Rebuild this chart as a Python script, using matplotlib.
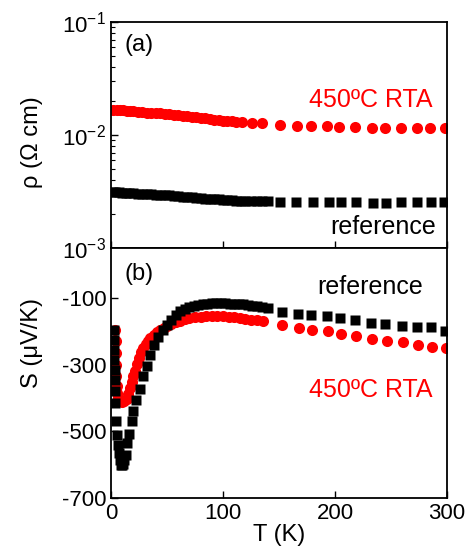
import matplotlib
matplotlib.use("Agg")
import matplotlib.pyplot as plt
import numpy as np

plt.rcParams['font.family'] = ['Liberation Sans', 'DejaVu Sans']
plt.rcParams['axes.unicode_minus'] = False

# (a) resistivity, 450C RTA sample (red circles)
t_rho_rta = [2, 5, 8, 11, 14, 17, 20, 24, 28, 32, 36, 40, 44, 48, 52, 56, 60, 64,
             68, 72, 76, 80, 84, 88, 92, 96, 100, 104, 108, 112, 117, 126, 135,
             151, 166, 179, 193, 204, 218, 233, 245, 259, 273, 285, 298.5]
rho_rta = [0.0166, 0.0166, 0.0165, 0.0165, 0.0164, 0.0163, 0.0162, 0.0161, 0.0160,
           0.0158, 0.0157, 0.0156, 0.0155, 0.0154, 0.0152, 0.0151, 0.0149, 0.0148,
           0.0146, 0.0145, 0.0143, 0.0142, 0.0140, 0.0138, 0.0137, 0.0135, 0.0134,
           0.0133, 0.0132, 0.0131, 0.0130, 0.0128, 0.0128,
           0.01225, 0.0121, 0.0121, 0.0121, 0.0117, 0.0117, 0.0116, 0.0116, 0.0116,
           0.0116, 0.0116, 0.0115]

# (a) resistivity, reference sample (black squares)
t_rho_ref = [1.5, 4, 7, 10, 13, 16, 20, 24, 28, 32, 36, 40, 44, 48, 52, 56, 60, 64,
             68, 72, 76, 80, 84, 88, 92, 96, 100, 104, 108, 112, 116, 120, 125, 130,
             135, 140,
             151, 165, 180, 194.6, 205, 219, 234, 245.5, 259, 273, 285.6, 297.5]
rho_ref = [0.00315, 0.00313, 0.00311, 0.00309, 0.00308, 0.00306, 0.00305, 0.00303,
           0.00302, 0.00300, 0.00298, 0.00297, 0.00296, 0.00294, 0.00292, 0.00290,
           0.00287, 0.00284, 0.00282, 0.00280, 0.00277, 0.00275, 0.00273, 0.00272,
           0.00270, 0.00269, 0.00267, 0.00266, 0.00264, 0.00263, 0.00262, 0.00261,
           0.00260, 0.00260, 0.00260, 0.00259,
           0.00257, 0.00257, 0.00257, 0.00257, 0.00257, 0.00257, 0.00250, 0.00250,
           0.00257, 0.00257, 0.00257, 0.00257]

# (b) thermopower, 450C RTA sample
t_s_rta = [4, 4.2, 4.4, 4.6, 4.8, 5, 5.5, 6.5, 8, 10, 12, 14, 15.5, 17, 18.5, 20,
           21.5, 23, 25, 27, 29, 31, 33, 35, 38, 41, 44, 47, 50, 54, 58, 62, 66, 70,
           75, 80, 85, 90, 95, 100, 105, 110, 115, 120, 125, 130, 136,
           153, 168, 179.5, 194, 205, 219, 233, 246.5, 261, 274.5, 287, 299.5]
s_rta = [-196, -230, -265, -300, -335, -365, -385, -400, -408, -411, -410, -402,
         -388, -370, -352, -335, -318, -298, -280, -263, -250, -238, -228, -220,
         -210, -202, -195, -189, -183, -177, -172, -168, -164, -161, -158, -156,
         -155, -154, -154, -155, -156, -158, -160, -162, -165, -167, -170,
         -181, -191, -195, -200, -208, -213, -223, -228, -231, -241, -246, -251]

# (b) thermopower, reference sample
t_s_ref = [2.8, 2.9, 3.0, 3.1, 3.2, 3.3, 3.4, 3.6, 4.2, 5, 6, 7, 7.6, 8.5, 9.5,
           11, 12, 13, 14.7, 16.4, 18.5, 20, 22.6, 25.6, 28.6, 32, 35, 38.5, 42,
           46, 50, 54, 58, 62, 66, 70, 74, 78, 82, 86, 90, 94, 98, 102,
           106, 110, 114, 118, 122, 126, 130, 135, 140,
           153, 167, 179, 192.6, 204.5, 218, 232, 245, 259.5, 273, 285.5, 298]
s_ref = [-195, -225, -255, -285, -315, -345, -380, -415, -470, -510, -540, -565,
         -585, -600, -602, -598, -585, -570, -534, -507, -468, -440, -407, -374,
         -334, -305, -270, -240, -217, -195, -180, -165, -150, -140, -133,
         -127, -123, -120, -118, -117, -116, -116, -116, -116, -117, -117, -118,
         -119, -121, -123, -125, -128, -131,
         -142, -147, -150, -154, -160, -166, -175, -178, -183, -188, -188, -198]

fig = plt.figure(figsize=(4.71, 5.54), dpi=100)
ax1 = fig.add_axes([0.2357, 0.5523, 0.7133, 0.4080])
ax2 = fig.add_axes([0.2357, 0.1011, 0.7133, 0.4512])

ax1.plot(t_rho_rta, rho_rta, 'o', color='red', ms=8, mec='none')
ax1.plot(t_rho_ref, rho_ref, 's', color='black', ms=7, mec='none')
ax1.set_yscale('log')
ax1.set_ylim(1e-3, 1e-1)
ax1.set_xlim(0, 300)
ax1.set_xticks([0, 100, 200, 300])
ax1.set_xticklabels([])
ax1.set_ylabel('ρ (Ω cm)', fontsize=17)
ax1.yaxis.set_label_coords(-0.202, 0.47)
ax1.text(12, 0.0625, '(a)', fontsize=17, va='center')
ax1.text(287, 0.0204, '450ºC RTA', fontsize=18, color='red', ha='right', va='center')
ax1.text(290, 0.00154, 'reference', fontsize=18, ha='right', va='center')

ax2.plot(t_s_rta, s_rta, 'o', color='red', ms=8, mec='none')
ax2.plot(t_s_ref, s_ref, 's', color='black', ms=7, mec='none')
ax2.set_xlim(0, 300)
ax2.set_ylim(-700, 50)
ax2.set_xticks([0, 100, 200, 300])
ax2.set_yticks([-100, -300, -500, -700])
ax2.set_xlabel('T (K)', fontsize=17, labelpad=0)
ax2.set_ylabel('S (μV/K)', fontsize=17)
ax2.yaxis.set_label_coords(-0.202, 0.62)
ax2.text(12, -27, '(b)', fontsize=17, va='center')
ax2.text(279, -67, 'reference', fontsize=18, ha='right', va='center')
ax2.text(287, -375, '450ºC RTA', fontsize=18, color='red', ha='right', va='center')

for ax in (ax1, ax2):
    ax.tick_params(direction='in', labelsize=16, length=5, width=1, right=False, top=False)
    ax.tick_params(which='minor', direction='in', length=3, width=0.8)
    for sp in ax.spines.values():
        sp.set_linewidth(1.3)

fig.savefig('out.png', dpi=100)
